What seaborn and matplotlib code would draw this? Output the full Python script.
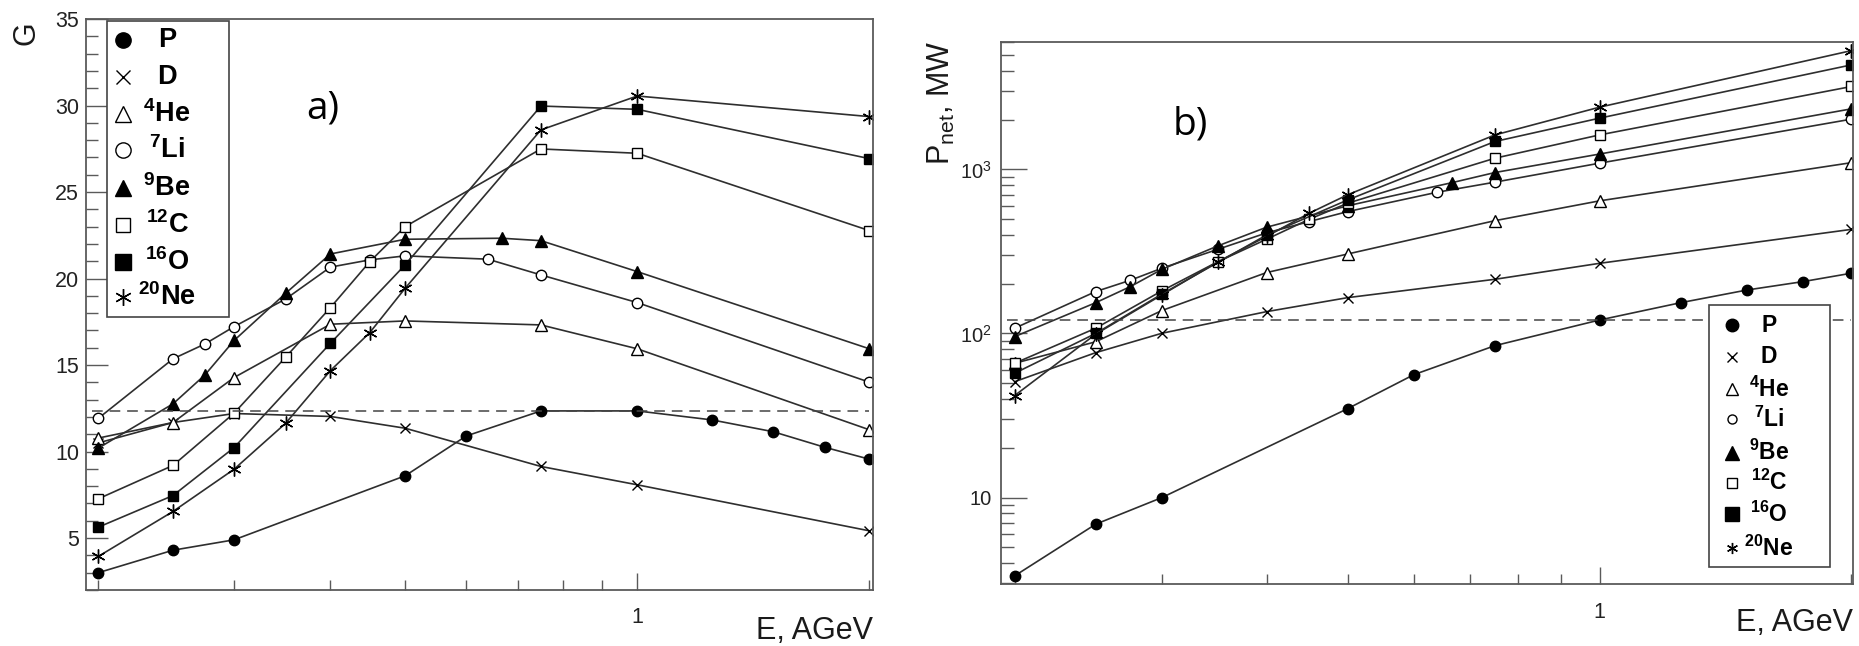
import math
import matplotlib
matplotlib.use("Agg")
import matplotlib.pyplot as plt
import seaborn as sns
from matplotlib.lines import Line2D
from matplotlib.patches import Rectangle
from matplotlib.ticker import FixedLocator, MultipleLocator, NullFormatter, FuncFormatter, LogLocator

# ---------------- data ----------------
# beam energy grids (AGeV) for each ion
e_p = [0.2, 0.25, 0.3, 0.5, 0.6, 0.75, 1.0, 1.25, 1.5, 1.75, 2.0]
e_d = [0.2, 0.25, 0.3, 0.4, 0.5, 0.75, 1.0, 2.0]
e_he = [0.2, 0.25, 0.3, 0.4, 0.5, 0.75, 1.0, 2.0]
e_li = [0.2, 0.25, 0.275, 0.3, 0.35, 0.4, 0.45, 0.5, 0.64, 0.75, 1.0, 2.0]
e_be = [0.2, 0.25, 0.275, 0.3, 0.35, 0.4, 0.5, 0.667, 0.75, 1.0, 2.0]
e_c = [0.2, 0.25, 0.3, 0.35, 0.4, 0.45, 0.5, 0.75, 1.0, 2.0]
e_o = [0.2, 0.25, 0.3, 0.4, 0.5, 0.75, 1.0, 2.0]
e_ne = [0.2, 0.25, 0.3, 0.35, 0.4, 0.45, 0.5, 0.75, 1.0, 2.0]

# energy gain G
g_p = [3.0, 4.3, 4.9, 8.6, 10.9, 12.35, 12.35, 11.83, 11.15, 10.25, 9.56]
g_d = [10.5, 11.68, 12.2, 12.03, 11.35, 9.14, 8.08, 5.42]
g_he = [10.78, 11.68, 14.28, 17.36, 17.55, 17.32, 15.94, 11.26]
g_li = [11.92, 15.36, 16.22, 17.22, 18.82, 20.66, 21.08, 21.31, 21.12, 20.21, 18.61, 14.01]
g_be = [10.2, 12.76, 14.43, 16.42, 19.15, 21.42, 22.27, 22.33, 22.19, 20.4, 15.94]
g_c = [7.27, 9.2, 12.22, 15.46, 18.32, 20.98, 23.0, 27.49, 27.24, 22.77]
g_o = [5.63, 7.46, 10.23, 16.26, 20.79, 29.97, 29.78, 26.93]
g_ne = [3.94, 6.54, 8.98, 11.64, 14.68, 16.88, 19.44, 28.59, 30.55, 29.36]

# net power, MW
p_p = [3.33, 6.88, 10.0, 34.8, 56.1, 84.3, 120.8, 154, 184, 207, 233]
p_d = [50.8, 76.4, 100.3, 135.8, 165.3, 213.9, 267.6, 431]
p_he = [65.8, 89, 138, 235, 305, 487, 643, 1099]
p_li = [107.6, 180, 211, 250, 326, 410, 481, 553, 726, 836, 1091, 2024]
p_be = [95.6, 154, 193, 246, 342, 444, 600, 831, 957, 1240, 2339]
p_c = [65.8, 107.6, 182, 274, 375, 497, 622, 1170, 1622, 3200]
p_o = [57.2, 100, 174, 398, 651, 1479, 2052, 4335]
p_ne = [41.8, 99, 172, 274, 390, 541, 700, 1622, 2394, 5295]

names = ["P", "D", "He", "Li", "Be", "C", "O", "Ne"]
legend_labels = ["P", "D", r"$\mathbf{^{4}}$He", r"$\mathbf{^{7}}$Li", r"$\mathbf{^{9}}$Be",
                 r"$\mathbf{^{12}}$C", r"$\mathbf{^{16}}$O", r"$\mathbf{^{20}}$Ne"]
energies = [e_p, e_d, e_he, e_li, e_be, e_c, e_o, e_ne]
gains = [g_p, g_d, g_he, g_li, g_be, g_c, g_o, g_ne]
powers = [p_p, p_d, p_he, p_li, p_be, p_c, p_o, p_ne]

x_ticks_minor = [0.2, 0.3, 0.4, 0.5, 0.6, 0.7, 0.8, 0.9, 2.0]

# ---------------- style ----------------
sns.set_theme(style="white")
plt.rcParams["font.family"] = ["Liberation Sans", "DejaVu Sans"]
plt.rcParams["mathtext.fontset"] = "custom"
plt.rcParams["mathtext.rm"] = "Liberation Sans"
plt.rcParams["mathtext.it"] = "Liberation Sans:italic"
plt.rcParams["mathtext.bf"] = "Liberation Sans:bold"

ASTERISK = (6, 2, 0)
marker_styles = {
    "P": dict(marker="o", mfc="black", ms=7.5),
    "D": dict(marker="x", mfc="none", ms=7.5),
    "He": dict(marker="^", mfc="white", ms=8),
    "Li": dict(marker="o", mfc="white", ms=7.5),
    "Be": dict(marker="^", mfc="black", ms=8),
    "C": dict(marker="s", mfc="white", ms=6.5),
    "O": dict(marker="s", mfc="black", ms=6.5),
    "Ne": dict(marker=ASTERISK, mfc="none", ms=10),
}
# legend symbol sizes (points) for the two key boxes
legend_ms_a = {"P": 11, "D": 10, "He": 11, "Li": 11, "Be": 12, "C": 9.5, "O": 11, "Ne": 12}
legend_ms_b = {"P": 9, "D": 7, "He": 8.5, "Li": 6.5, "Be": 9.5, "C": 7, "O": 10, "Ne": 8}

LINE_COLOR = "#2e2e2e"
SPINE_COLOR = "#5a5a5a"

W, H = 1859, 646
fig = plt.figure(figsize=(W / 100, H / 100), dpi=100)
fig.patch.set_facecolor("white")


def frac(x0, y0, x1, y1):
    return [x0 / W, 1 - y1 / H, (x1 - x0) / W, (y1 - y0) / H]


ax_a = fig.add_axes(frac(85.5, 19, 872.7, 590))
ax_b = fig.add_axes(frac(1000.5, 41.7, 1853.3, 584.3))

for ax in (ax_a, ax_b):
    ax.set_xscale("log")
    ax.set_facecolor("white")
    for s in ax.spines.values():
        s.set_color(SPINE_COLOR)
        s.set_linewidth(1.3)
ax_b.set_yscale("log")


def draw_series(ax, ys_all):
    for name, xs, ys in zip(names, energies, ys_all):
        st = marker_styles[name]
        sns.lineplot(x=xs, y=ys, ax=ax, sort=False, estimator=None, legend=False,
                     color=LINE_COLOR, linewidth=1.2,
                     marker=st["marker"], markersize=st["ms"],
                     markerfacecolor=st["mfc"], markeredgecolor="black",
                     markeredgewidth=1.0)


draw_series(ax_a, gains)
draw_series(ax_b, powers)

# reference level: proton value at 1 AGeV
ref_a = g_p[e_p.index(1.0)]
ref_b = p_p[e_p.index(1.0)]
ax_a.hlines(ref_a, 0.196, 2.0, colors="#444444", linestyles=(0, (7, 4.5)), linewidth=1.1)
ax_b.hlines(ref_b, 0.196, 2.0, colors="#444444", linestyles=(0, (7, 4.5)), linewidth=1.1)

# ---------------- axes ----------------
ax_a.set_xlim(0.1925, 2.02)
ax_a.set_ylim(2.0, 35)
ax_b.set_xlim(0.1924, 2.01)
ax_b.set_ylim(2.96, 6000)

for ax in (ax_a, ax_b):
    ax.xaxis.set_major_locator(FixedLocator([1.0]))
    ax.xaxis.set_major_formatter(FuncFormatter(lambda v, p: "1"))
    ax.xaxis.set_minor_locator(FixedLocator(x_ticks_minor))
    ax.xaxis.set_minor_formatter(NullFormatter())
    ax.set_xlabel("")
    ax.set_ylabel("")

ax_a.yaxis.set_major_locator(MultipleLocator(5))
ax_a.yaxis.set_minor_locator(MultipleLocator(1))
ax_a.tick_params(axis="y", which="major", direction="in", left=True, right=False,
                 length=15.5, width=1.0, color=SPINE_COLOR, pad=4.5, labelsize=15.5)
ax_a.tick_params(axis="y", which="minor", direction="in", left=True, right=False,
                 length=8.4, width=1.0, color=SPINE_COLOR)
ax_a.tick_params(axis="x", which="major", direction="in", bottom=True, top=False,
                 length=12.5, width=1.0, color=SPINE_COLOR, pad=12, labelsize=15.5)
ax_a.tick_params(axis="x", which="minor", direction="in", bottom=True, top=False,
                 length=7.5, width=1.0, color=SPINE_COLOR)


def pow_fmt(v, pos):
    if abs(v - 10) < 1e-6:
        return "10"
    return r"$10^{%d}$" % round(math.log10(v))


ax_b.yaxis.set_major_locator(FixedLocator([10, 100, 1000]))
ax_b.yaxis.set_major_formatter(FuncFormatter(pow_fmt))
ax_b.yaxis.set_minor_locator(LogLocator(base=10, subs=range(2, 10)))
ax_b.yaxis.set_minor_formatter(NullFormatter())
ax_b.tick_params(axis="y", which="major", direction="in", left=True, right=False,
                 length=19, width=1.0, color=SPINE_COLOR, pad=6, labelsize=14.5)
ax_b.tick_params(axis="y", which="minor", direction="in", left=True, right=False,
                 length=9.5, width=1.0, color=SPINE_COLOR)
ax_b.tick_params(axis="x", which="major", direction="in", bottom=True, top=False,
                 length=12.5, width=1.0, color=SPINE_COLOR, pad=13, labelsize=15.5)
ax_b.tick_params(axis="x", which="minor", direction="in", bottom=True, top=False,
                 length=7.5, width=1.0, color=SPINE_COLOR)

for ax in (ax_a, ax_b):
    for lab in ax.get_xticklabels() + ax.get_yticklabels():
        lab.set_color("#222222")

# ---------------- labels ----------------
TXT = "#1a1a1a"
fig.text(26 / W, 1 - 33 / H, "G", rotation=90, ha="center", va="center",
         fontsize=22, color=TXT)
fig.text(941 / W, 1 - 103 / H, r"P$_{\rm net}$, MW", rotation=90, ha="center",
         va="center", fontsize=22, color=TXT)
fig.text(872.7 / W, 1 - 631 / H, "E, AGeV", ha="right", va="center", fontsize=22, color=TXT)
fig.text(1853.3 / W, 1 - 623 / H, "E, AGeV", ha="right", va="center", fontsize=22, color=TXT)
fig.text(323 / W, 1 - 108 / H, "a)", ha="center", va="center", fontsize=28,
         family=["Open Sans", "DejaVu Sans"], color="black")
fig.text(1190 / W, 1 - 124 / H, "b)", ha="center", va="center", fontsize=28,
         family=["Open Sans", "DejaVu Sans"], color="black")


# ---------------- legends ----------------
def draw_legend(box, marker_x, label_x, ys, fontsize, sizes):
    x0, y0, x1, y1 = box
    fig.add_artist(Rectangle((x0 / W, 1 - y1 / H), (x1 - x0) / W, (y1 - y0) / H,
                             transform=fig.transFigure, facecolor="white",
                             edgecolor="#444444", linewidth=1.2, zorder=5))
    for name, lab, y in zip(names, legend_labels, ys):
        st = marker_styles[name]
        fig.add_artist(Line2D([marker_x / W], [1 - y / H], transform=fig.transFigure,
                              linestyle="none", marker=st["marker"],
                              markersize=sizes[name],
                              markerfacecolor=st["mfc"], markeredgecolor="black",
                              markeredgewidth=1.0, zorder=6))
        fig.text(label_x / W, 1 - y / H, lab, ha="center", va="center",
                 fontsize=fontsize, fontweight="bold", color="black", zorder=6)


draw_legend((106.7, 20.7, 228.7, 317.3), 123, 167,
            [40, 77, 114, 150, 188, 225, 262, 297], 19.5, legend_ms_a)
draw_legend((1709.3, 305, 1830, 566.7), 1731.7, 1769,
            [325, 356.7, 389.3, 419.3, 452.7, 482.7, 514, 548.3], 16.5, legend_ms_b)

fig.savefig("out.png", dpi=100, facecolor="white")
